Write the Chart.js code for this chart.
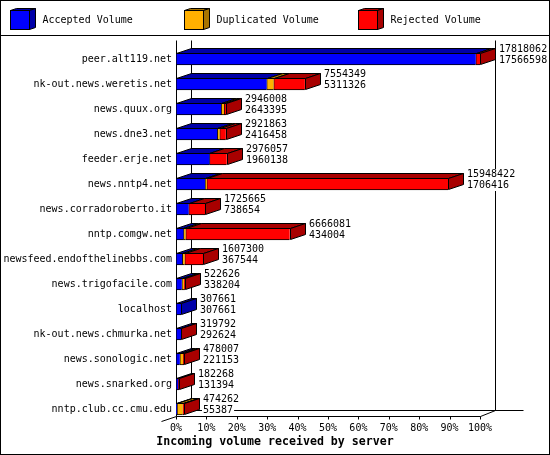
<!DOCTYPE html>
<html>
<head>
<meta charset="utf-8">
<script src="https://cdn.jsdelivr.net/npm/chart.js@4.4.1/dist/chart.umd.min.js"></script>
<style>
  html, body { margin: 0; padding: 0; background: #fff; }
  #wrap { width: 550px; height: 455px; }
</style>
</head>
<body>
<div id="wrap"><canvas id="myChart" width="550" height="455"></canvas></div>
<script>
// servers and their incoming volume (bytes)
const servers = [
  'peer.alt119.net', 'nk-out.news.weretis.net', 'news.quux.org', 'news.dne3.net',
  'feeder.erje.net', 'news.nntp4.net', 'news.corradoroberto.it', 'nntp.comgw.net',
  'newsfeed.endofthelinebbs.com', 'news.trigofacile.com', 'localhost',
  'nk-out.news.chmurka.net', 'news.sonologic.net', 'news.snarked.org', 'nntp.club.cc.cmu.edu'
];
const totalVolume = [17818062, 7554349, 2946008, 2921863, 2976057, 15948422, 1725665, 6666081,
  1607300, 522626, 307661, 319792, 478007, 182268, 474262];
const acceptedVolume = [17566598, 5311326, 2643395, 2416458, 1960138, 1706416, 738654, 434004,
  367544, 338204, 307661, 292624, 221153, 131394, 55387];
const duplicatedVolume = [0, 410000, 170000, 140000, 0, 90000, 0, 130000,
  140000, 130000, 0, 0, 190000, 0, 340000];
const rejectedVolume = [251464, 1833023, 132613, 365405, 1015919, 14152006, 987011, 6102077,
  1099756, 54422, 0, 27168, 66854, 50874, 78875];
const seriesNames = ['Accepted Volume', 'Duplicated Volume', 'Rejected Volume'];
const tickLabels = ['0%', '10%', '20%', '30%', '40%', '50%', '60%', '70%', '80%', '90%', '100%'];
const axisTitle = 'Incoming volume received by server';

const colors = ['#0000ff', '#ffb000', '#ff0000'];
const darkColors = ['#0000a8', '#a87400', '#a80000'];
const FONT = '"DejaVu Sans Mono", monospace';
const DX = 15, DY = -5;

// bars are scaled against the biggest server
const maxTotal = Math.max(...totalVolume);
const pct = arr => arr.map(v => v / maxTotal * 100);

Chart.defaults.font.family = FONT;
Chart.defaults.font.size = 10;
Chart.defaults.color = '#000';

function poly(c, pts, fill) {
  c.beginPath();
  c.moveTo(pts[0][0], pts[0][1]);
  for (let k = 1; k < pts.length; k++) c.lineTo(pts[k][0], pts[k][1]);
  c.closePath();
  c.fillStyle = fill;
  c.fill();
  c.stroke();
}

const boxes3d = {
  id: 'boxes3d',
  beforeDatasetsDraw(chart) {
    const c = chart.ctx, xs = chart.scales.x;
    const x0 = Math.round(xs.getPixelForValue(0)) + 0.5;
    const x1 = Math.round(xs.getPixelForValue(100)) + 0.5;
    const top = 40.5, floor = 416.5, back = 410.5;
    c.save();
    c.strokeStyle = '#000';
    c.lineWidth = 1;
    c.beginPath();
    c.moveTo(x0, top); c.lineTo(x0, floor);
    c.moveTo(x0 + DX, top); c.lineTo(x0 + DX, back);
    c.moveTo(x1 + DX, top); c.lineTo(x1 + DX, back);
    c.moveTo(x0 + DX, back); c.lineTo(x1 + 43, back);
    c.moveTo(x0 - DX, floor + 5); c.lineTo(x0, floor); c.lineTo(x1, floor); c.lineTo(x1 + DX, back);
    for (let v = 0; v <= 100; v += 10) {
      const px = Math.round(xs.getPixelForValue(v)) + 0.5;
      c.moveTo(px, floor); c.lineTo(px, floor + 3);
    }
    c.stroke();
    c.restore();
  },
  afterDatasetsDraw(chart) {
    const c = chart.ctx;
    const metas = chart.getSortedVisibleDatasetMetas();
    c.save();
    c.strokeStyle = '#000';
    c.lineWidth = 1;
    servers.forEach((name, i) => {
      let last = null, lastSet = 0;
      metas.forEach(meta => {
        const bar = meta.data[i];
        if (bar.x - bar.base < 0.05) return;
        const t = Math.round(bar.y - bar.height / 2) + 0.5;
        const a = Math.round(bar.base) + 0.5, b = Math.round(bar.x) + 0.5;
        poly(c, [[a, t], [b, t], [b + DX, t + DY], [a + DX, t + DY]], darkColors[meta.index]);
        last = bar; lastSet = meta.index;
      });
      if (!last) return;
      const t = Math.round(last.y - last.height / 2) + 0.5;
      const btm = t + last.height - 1;
      const b = Math.round(last.x) + 0.5;
      poly(c, [[b, t], [b + DX, t + DY], [b + DX, btm + DY], [b, btm]], darkColors[lastSet]);

      // total and accepted numbers next to the box
      c.font = '10px ' + FONT;
      c.textBaseline = 'middle';
      const tx = Math.round(last.x) + 19;
      [[totalVolume[i], last.y - 9.5], [acceptedVolume[i], last.y + 1.5]].forEach(([v, cy]) => {
        const s = String(v);
        const w = c.measureText(s).width;
        c.fillStyle = '#fff';
        c.fillRect(tx - 1, cy - 5.5, w + 2, 11);
        c.fillStyle = '#000';
        c.fillText(s, tx, cy);
      });
    });
    c.restore();
  },
  afterDraw(chart) {
    const c = chart.ctx;
    c.save();
    c.strokeStyle = '#000';
    c.lineWidth = 1;
    // legend
    c.font = '10px ' + FONT;
    c.textBaseline = 'middle';
    seriesNames.forEach((s, k) => {
      const x = 10.5 + k * 174, y = 10.5;
      poly(c, [[x, y], [x + 19, y], [x + 25, y - 2], [x + 6, y - 2]], darkColors[k]);
      poly(c, [[x + 19, y], [x + 25, y - 2], [x + 25, y + 17], [x + 19, y + 19]], darkColors[k]);
      c.fillStyle = colors[k];
      c.fillRect(x, y, 19, 19);
      c.strokeRect(x, y, 19, 19);
      c.fillStyle = '#000';
      c.fillText(s, x + 32, 20.5);
    });
    // axis title, centred on the whole picture
    c.font = 'bold 11.6px ' + FONT;
    c.textAlign = 'center';
    c.fillText(axisTitle, 275, 441.5);
    c.beginPath();
    c.moveTo(0, 35.5); c.lineTo(550, 35.5);
    c.stroke();
    c.strokeRect(0.5, 0.5, 549, 454);
    c.restore();
  }
};

const ctx = document.getElementById('myChart');
const volumes = [acceptedVolume, duplicatedVolume, rejectedVolume];

new Chart(ctx, {
  type: 'bar',
  data: {
    labels: servers,
    datasets: seriesNames.map((s, k) => ({
      label: s,
      data: pct(volumes[k]),
      backgroundColor: colors[k],
      borderColor: '#000',
      borderWidth: { top: 1, bottom: 1, left: 1, right: 0 },
      borderSkipped: false,
      barThickness: 12
    }))
  },
  options: {
    indexAxis: 'y',
    responsive: false,
    devicePixelRatio: 1,
    animation: false,
    layout: { padding: { top: 46.5, right: 70, left: 0, bottom: 0 } },
    plugins: {
      legend: { display: false },
      tooltip: { enabled: false }
    },
    scales: {
      x: {
        stacked: true,
        min: 0,
        max: 100,
        grid: { display: false, drawTicks: false },
        border: { display: false },
        ticks: {
          stepSize: 10,
          padding: 1,
          maxRotation: 0,
          autoSkip: false,
          callback: (v) => tickLabels[Math.round(v / 10)]
        },
        afterFit: s => { s.height = 33.5; }
      },
      y: {
        stacked: true,
        grid: { display: false, drawTicks: false },
        border: { display: false },
        ticks: { padding: 4, autoSkip: false },
        afterFit: s => { s.width = 176; }
      }
    }
  },
  plugins: [boxes3d]
});
</script>
</body>
</html>
